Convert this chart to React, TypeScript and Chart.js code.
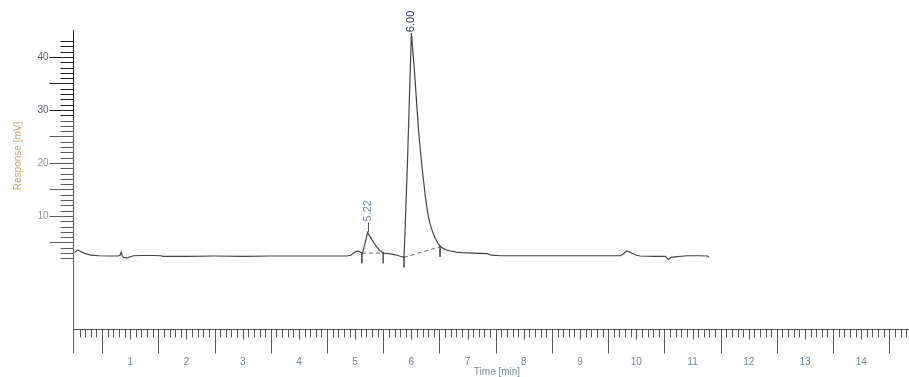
import React, { useEffect, useRef } from "react";
import { Chart, registerables } from "chart.js";

Chart.register(...registerables);

// Chromatogram trace: time [min] and response [mV]
const times = [
  0.01, 0.06, 0.12, 0.2, 0.3, 0.45, 0.6, 0.78, 0.82, 0.84, 0.86, 0.88, 0.95, 1.0, 1.06, 1.2, 1.4, 1.55, 1.58,
  2.0, 2.5, 3.0, 3.5, 4.0, 4.5, 4.85, 4.92, 5.0, 5.05, 5.1, 5.13, 5.18, 5.22, 5.3, 5.38, 5.45, 5.5, 5.6, 5.7,
  5.75, 5.8, 5.87, 5.93, 6.0, 6.05, 6.09, 6.13, 6.19, 6.25, 6.29, 6.33, 6.37, 6.42, 6.47, 6.51, 6.56, 6.62,
  6.7, 6.8, 6.9, 7.1, 7.35, 7.42, 7.6, 8.0, 8.5, 9.0, 9.5, 9.72, 9.76, 9.83, 9.9, 10.0, 10.07, 10.3, 10.52,
  10.55, 10.57, 10.62, 10.69, 10.9, 11.1, 11.27, 11.29,
];
const response = [
  3.1, 3.6, 3.3, 2.9, 2.6, 2.5, 2.45, 2.45, 2.6, 3.2, 2.4, 2.2, 2.1, 2.3, 2.5, 2.55, 2.55, 2.5, 2.4,
  2.4, 2.45, 2.4, 2.45, 2.45, 2.45, 2.45, 2.6, 3.2, 3.4, 3.1, 3.0, 5.0, 6.9, 5.5, 4.2, 3.4, 3.0, 2.9, 2.7,
  2.6, 2.4, 2.2, 20.0, 44.5, 38.0, 31.9, 25.7, 19.2, 13.5, 10.6, 8.6, 7.2, 5.9, 4.9, 4.3, 3.9, 3.6,
  3.4, 3.2, 3.1, 3.0, 2.9, 2.6, 2.5, 2.5, 2.5, 2.5, 2.5, 2.5, 2.8, 3.4, 3.1, 2.6, 2.45, 2.4, 2.4,
  2.0, 1.8, 2.2, 2.3, 2.5, 2.5, 2.45, 2.2,
];

// Peak annotations
const peakTimes = [5.22, 6.0];
const peakValues = [6.9, 44.5];
const peakLabels = ["5.22", "6.00"];

// Integration marks (peak start / end) and their baseline values
const markTimes = [5.12, 5.5, 5.87, 6.51];
const markValues = [3.0, 3.0, 2.2, 4.2];

// Dashed integration baselines: start/end times and values
const baseStartTimes = [5.12, 5.87];
const baseStartValues = [3.0, 2.2];
const baseEndTimes = [5.5, 6.51];
const baseEndValues = [3.0, 4.2];

// Axis ranges and labels
const xMin = 0;
const xMax = 14.85;
const yMin = -11.32;
const yMax = 45.09;
const xTickLabels = ["1", "2", "3", "4", "5", "6", "7", "8", "9", "10", "11", "12", "13", "14"];
const yTickLabels = ["10", "20", "30", "40"];
const yMinorFrom = 2;
const yMinorTo = 43;

const axesPlugin = {
  id: "chromAxes",
  afterDraw(chart: any) {
    const ctx = chart.ctx;
    const xs = chart.scales.x;
    const ys = chart.scales.y;
    const x0 = xs.getPixelForValue(0);
    const yBottom = ys.getPixelForValue(yMin);
    const yTop = ys.getPixelForValue(yMax);
    ctx.save();
    ctx.lineWidth = 1;
    const ax = Math.round(x0) - 0.5;
    // y axis line (darker top part)
    const split = ys.getPixelForValue(28);
    ctx.strokeStyle = "#1e1e1e";
    ctx.beginPath();
    ctx.moveTo(ax, yTop);
    ctx.lineTo(ax, split);
    ctx.stroke();
    ctx.strokeStyle = "#5e5e5e";
    ctx.beginPath();
    ctx.moveTo(ax, split);
    ctx.lineTo(ax, yBottom + 24);
    ctx.stroke();
    // y ticks
    for (let v = yMinorFrom; v <= yMinorTo; v++) {
      const py = Math.round(ys.getPixelForValue(v)) + 0.5;
      const len = v % 5 === 0 ? 24 : 13;
      ctx.strokeStyle = py < split ? "#1e1e1e" : "#5e5e5e";
      ctx.beginPath();
      ctx.moveTo(ax - len, py);
      ctx.lineTo(ax, py);
      ctx.stroke();
    }
    ctx.font = "10px 'Liberation Sans', Arial, sans-serif";
    ctx.textAlign = "right";
    ctx.textBaseline = "middle";
    yTickLabels.forEach((lab) => {
      const py = ys.getPixelForValue(Number(lab));
      ctx.fillStyle = Number(lab) >= 30 ? "#555c68" : "#8a919c";
      ctx.fillText(lab, ax - 25, py);
    });
    // x axis line
    ctx.strokeStyle = "#555";
    const by = Math.round(yBottom) + 0.5;
    ctx.beginPath();
    ctx.moveTo(ax, by);
    ctx.lineTo(chart.width, by);
    ctx.stroke();
    // x ticks every 0.1 min
    for (let i = 1; i <= Math.round(xMax * 10); i++) {
      const px = Math.round(xs.getPixelForValue(i / 10)) + 0.5;
      if (px > chart.width) break;
      let len = 8;
      if (i % 10 === 0) len = 10;
      else if (i % 5 === 0) len = 24;
      ctx.beginPath();
      ctx.moveTo(px, by);
      ctx.lineTo(px, by + len);
      ctx.stroke();
    }
    ctx.fillStyle = "#6f8298";
    ctx.textAlign = "center";
    ctx.textBaseline = "middle";
    xTickLabels.forEach((lab) => {
      const px = xs.getPixelForValue(Number(lab));
      ctx.fillText(lab, px, yBottom + 33);
    });
    ctx.font = "10px 'Liberation Sans', Arial, sans-serif";
    ctx.fillStyle = "#7a8ba0";
    ctx.fillText("Time [min]", 497, yBottom + 43);
    // y title
    ctx.save();
    ctx.translate(18, 156);
    ctx.rotate(-Math.PI / 2);
    ctx.font = "10px 'Liberation Sans', Arial, sans-serif";
    ctx.fillStyle = "#c9a070";
    ctx.fillText("Response [mV]", 0, 0);
    ctx.restore();
    // peak labels
    peakLabels.forEach((lab, i) => {
      const px = xs.getPixelForValue(peakTimes[i]);
      const py = ys.getPixelForValue(peakValues[i]);
      const gap = i === 0 ? 10 : 0;
      ctx.strokeStyle = "#555";
      if (gap > 0) {
        ctx.beginPath();
        ctx.moveTo(Math.round(px) + 0.5, py);
        ctx.lineTo(Math.round(px) + 0.5, py - gap);
        ctx.stroke();
      }
      ctx.save();
      ctx.translate(px, py - gap - 1);
      ctx.rotate(-Math.PI / 2);
      ctx.font = "11px 'Liberation Sans', Arial, sans-serif";
      ctx.textAlign = "left";
      ctx.textBaseline = "middle";
      ctx.fillStyle = i === 0 ? "#7088a4" : "#34445e";
      ctx.fillText(lab, 0, 0);
      ctx.restore();
    });
    ctx.restore();
  },
};

export default function App() {
  const ref = useRef<HTMLCanvasElement | null>(null);
  useEffect(() => {
    document.body.style.margin = "0";
    if (!ref.current) return;
    const trace = times.map((t, i) => ({ x: t, y: response[i] }));
    const markSets = markTimes.map((t, i) => ({
      data: [
        { x: t, y: markValues[i] + 0.2 },
        { x: t, y: markValues[i] - 1.9 },
      ],
      borderColor: "#555",
      borderWidth: 1,
      pointRadius: 0,
      tension: 0,
    }));
    const baseSets = baseStartTimes.map((t, i) => ({
      data: [
        { x: t, y: baseStartValues[i] },
        { x: baseEndTimes[i], y: baseEndValues[i] },
      ],
      borderColor: "#666",
      borderWidth: 1,
      borderDash: [4, 3],
      pointRadius: 0,
      tension: 0,
    }));
    const chart = new Chart(ref.current, {
      type: "line",
      data: {
        datasets: [
          {
            data: trace,
            borderColor: "#444",
            borderWidth: 1.2,
            pointRadius: 0,
            tension: 0,
          },
          ...baseSets,
          ...markSets,
        ] as any,
      },
      options: {
        responsive: false,
        animation: false,
        layout: { padding: { left: 74, right: 0, top: 30, bottom: 48 } },
        scales: {
          x: { type: "linear", min: xMin, max: xMax, display: false },
          y: { type: "linear", min: yMin, max: yMax, display: false },
        },
        plugins: { legend: { display: false }, tooltip: { enabled: false } },
      },
      plugins: [axesPlugin],
    });
    return () => chart.destroy();
  }, []);
  return (
    <div style={{ width: 909, height: 377, background: "#fff" }}>
      <canvas ref={ref} width={909} height={377} style={{ display: "block" }} />
    </div>
  );
}
